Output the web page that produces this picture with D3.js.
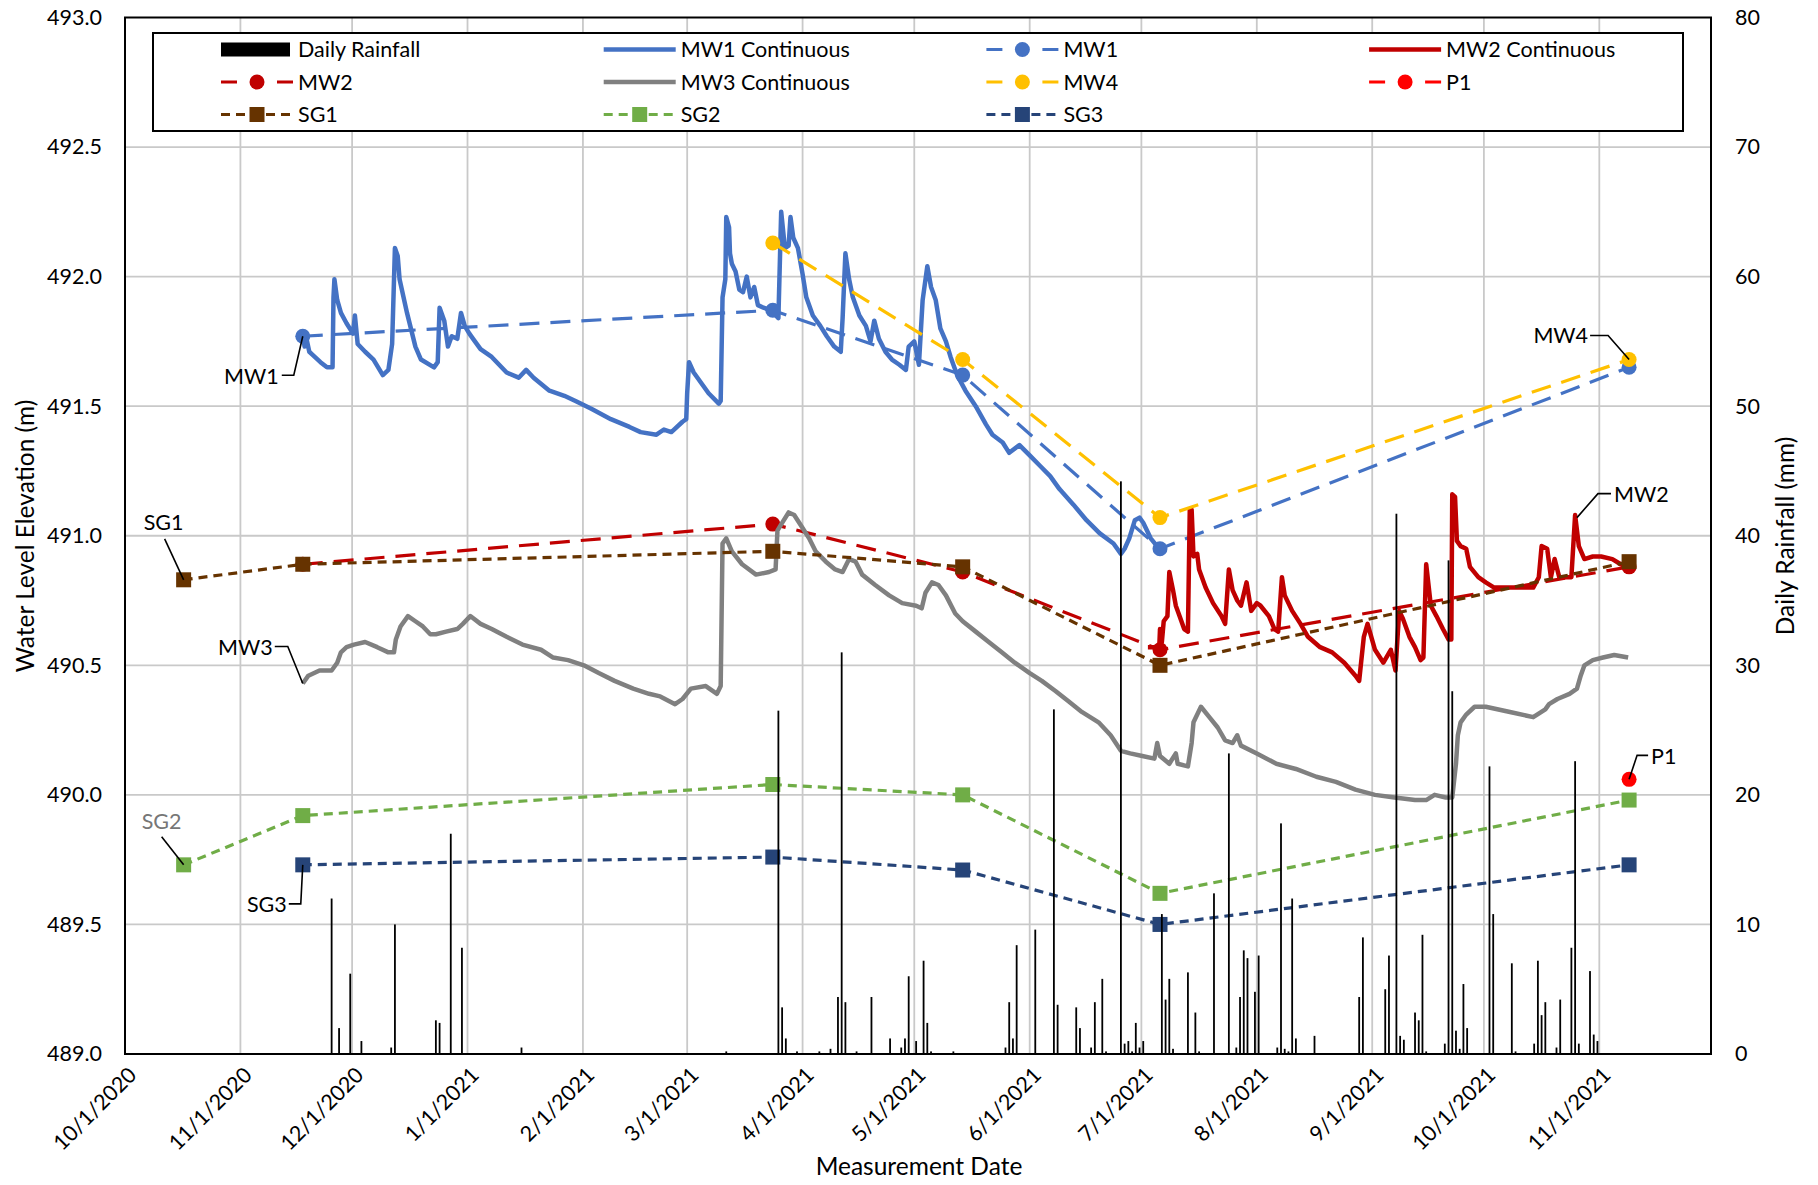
<!DOCTYPE html>
<html>
<head>
<meta charset="utf-8">
<script src="https://cdn.jsdelivr.net/npm/d3@7"></script>
<style>
  body { margin: 0; background: #fff; }
  svg text { font-family: Lato, "Noto Sans", sans-serif; font-size: 21.5px; fill: #000; }
  svg text.title { font-size: 24.5px; }
</style>
</head>
<body>
<svg id="chart" width="1818" height="1185"></svg>
<script>
// ---- data ----
const monthTicks = ['2020-10-01','2020-11-01','2020-12-01','2021-01-01','2021-02-01','2021-03-01','2021-04-01',
  '2021-05-01','2021-06-01','2021-07-01','2021-08-01','2021-09-01','2021-10-01','2021-11-01'];
const elevTicks = [489.0, 489.5, 490.0, 490.5, 491.0, 491.5, 492.0, 492.5, 493.0];
const rainTicks = [0, 10, 20, 30, 40, 50, 60, 70, 80];

// manual measurement dates and values (null = not measured)
const measDates = ['2020-10-16 18','2020-11-17 18','2021-03-24 00','2021-05-14 00','2021-07-06 00','2021-11-09 00'];
const mw1 = [null, 491.77, 491.87, 491.62, 490.95, 491.65];
const mw2 = [null, 490.89, 491.045, 490.86, 490.56, 490.88];
const mw4 = [null, null, 492.13, 491.68, 491.07, 491.68];
const p1  = [null, null, null, null, null, 490.06];
const sg1 = [490.83, 490.89, 490.94, 490.88, 490.50, 490.90];
const sg2 = [489.73, 489.92, 490.04, 490.00, 489.62, 489.98];
const sg3 = [null, 489.73, 489.76, 489.71, 489.50, 489.73];

// logger records [date hour, elevation]
const mw1Cont = [
  ['2020-11-17 18',491.77],['2020-11-18 06',491.73],['2020-11-18 18',491.76],['2020-11-19 12',491.71],
  ['2020-11-20 06',491.70],['2020-11-22 12',491.67],['2020-11-24 06',491.65],['2020-11-25 18',491.65],
  ['2020-11-26 00',491.92],['2020-11-26 06',491.99],['2020-11-27 00',491.91],['2020-11-28 00',491.86],
  ['2020-11-29 12',491.82],['2020-12-01 06',491.78],['2020-12-01 18',491.85],['2020-12-02 12',491.74],
  ['2020-12-04 12',491.71],['2020-12-06 18',491.68],['2020-12-09 06',491.62],['2020-12-10 18',491.64],
  ['2020-12-11 18',491.74],['2020-12-12 12',492.11],['2020-12-13 06',492.08],['2020-12-13 18',491.99],
  ['2020-12-15 18',491.86],['2020-12-18 00',491.73],['2020-12-19 12',491.68],['2020-12-23 00',491.65],
  ['2020-12-24 00',491.67],['2020-12-24 12',491.88],['2020-12-25 18',491.83],['2020-12-26 18',491.73],
  ['2020-12-27 18',491.77],['2020-12-29 06',491.76],['2020-12-30 06',491.86],['2020-12-31 06',491.81],
  ['2021-01-01 12',491.78],['2021-01-02 12',491.76],['2021-01-04 12',491.72],['2021-01-07 12',491.69],
  ['2021-01-11 12',491.63],['2021-01-14 18',491.61],['2021-01-16 18',491.64],['2021-01-18 18',491.61],
  ['2021-01-23 00',491.56],['2021-01-27 00',491.54],['2021-01-30 00',491.52],['2021-02-03 06',491.49],
  ['2021-02-08 12',491.45],['2021-02-13 12',491.42],['2021-02-16 12',491.40],['2021-02-20 18',491.39],
  ['2021-02-22 18',491.41],['2021-02-24 18',491.40],['2021-02-27 18',491.44],['2021-02-28 18',491.45],
  ['2021-03-01 00',491.55],['2021-03-01 12',491.67],['2021-03-02 18',491.63],['2021-03-06 18',491.55],
  ['2021-03-09 12',491.51],['2021-03-10 00',491.52],['2021-03-10 12',491.92],['2021-03-11 06',491.99],
  ['2021-03-11 12',492.23],['2021-03-12 06',492.19],['2021-03-12 12',492.09],['2021-03-13 00',492.05],
  ['2021-03-14 00',492.02],['2021-03-15 00',491.95],['2021-03-16 00',491.94],['2021-03-17 00',492.00],
  ['2021-03-18 00',491.92],['2021-03-19 00',491.96],['2021-03-20 00',491.89],['2021-03-21 12',491.88],
  ['2021-03-23 12',491.87],['2021-03-25 12',491.84],['2021-03-26 06',492.25],['2021-03-27 06',492.11],
  ['2021-03-28 06',492.12],['2021-03-28 18',492.23],['2021-03-29 12',492.15],['2021-03-30 18',492.11],
  ['2021-04-01 00',492.01],['2021-04-02 00',491.92],['2021-04-03 18',491.85],['2021-04-05 18',491.81],
  ['2021-04-07 12',491.77],['2021-04-09 12',491.73],['2021-04-11 06',491.71],['2021-04-11 18',491.84],
  ['2021-04-12 12',492.09],['2021-04-13 12',491.99],['2021-04-14 12',491.92],['2021-04-16 06',491.85],
  ['2021-04-18 00',491.81],['2021-04-19 06',491.75],['2021-04-20 06',491.83],['2021-04-21 12',491.76],
  ['2021-04-23 06',491.71],['2021-04-25 00',491.68],['2021-04-27 00',491.66],['2021-04-28 18',491.64],
  ['2021-04-29 12',491.73],['2021-05-01 00',491.75],['2021-05-02 06',491.66],['2021-05-03 06',491.91],
  ['2021-05-04 12',492.04],['2021-05-05 12',491.96],['2021-05-06 18',491.91],['2021-05-08 00',491.80],
  ['2021-05-09 12',491.75],['2021-05-10 18',491.69],['2021-05-12 12',491.62],['2021-05-14 18',491.56],
  ['2021-05-17 12',491.50],['2021-05-20 06',491.43],['2021-05-22 00',491.39],['2021-05-24 18',491.36],
  ['2021-05-26 12',491.32],['2021-05-29 06',491.35],['2021-06-01 00',491.31],['2021-06-03 18',491.27],
  ['2021-06-06 12',491.23],['2021-06-09 00',491.18],['2021-06-12 18',491.12],['2021-06-16 06',491.06],
  ['2021-06-19 18',491.01],['2021-06-23 12',490.97],['2021-06-25 12',490.93],['2021-06-26 12',490.95],
  ['2021-06-27 18',490.99],['2021-06-29 06',491.06],['2021-06-30 12',491.07],['2021-07-01 12',491.05],
  ['2021-07-03 12',490.99],['2021-07-05 18',490.95]
];

const mw2Cont = [
  ['2021-07-02 18',490.57],['2021-07-04 12',490.57],['2021-07-05 18',490.55],['2021-07-06 00',490.64],
  ['2021-07-06 12',490.59],['2021-07-07 00',490.67],['2021-07-08 00',490.69],['2021-07-08 12',490.86],
  ['2021-07-09 12',490.79],['2021-07-10 06',490.73],['2021-07-11 06',490.69],['2021-07-12 12',490.64],
  ['2021-07-13 12',490.63],['2021-07-14 00',491.10],['2021-07-14 12',491.10],['2021-07-15 00',490.92],
  ['2021-07-16 00',490.93],['2021-07-16 12',490.87],['2021-07-18 06',490.80],['2021-07-20 06',490.74],
  ['2021-07-22 12',490.69],['2021-07-23 12',490.66],['2021-07-24 12',490.87],['2021-07-25 12',490.79],
  ['2021-07-26 18',490.75],['2021-07-27 18',490.73],['2021-07-29 06',490.82],['2021-07-30 12',490.71],
  ['2021-08-01 00',490.74],['2021-08-02 00',490.73],['2021-08-04 06',490.69],['2021-08-05 18',490.64],
  ['2021-08-06 18',490.63],['2021-08-07 18',490.84],['2021-08-08 12',490.77],['2021-08-10 12',490.71],
  ['2021-08-12 18',490.66],['2021-08-14 18',490.61],['2021-08-18 00',490.57],['2021-08-21 06',490.55],
  ['2021-08-24 12',490.51],['2021-08-27 12',490.46],['2021-08-28 12',490.44],['2021-08-29 18',490.61],
  ['2021-08-30 18',490.66],['2021-09-01 18',490.56],['2021-09-04 00',490.51],['2021-09-06 00',490.56],
  ['2021-09-07 06',490.48],['2021-09-08 06',490.71],['2021-09-09 06',490.68],['2021-09-11 00',490.61],
  ['2021-09-12 12',490.57],['2021-09-14 00',490.52],['2021-09-14 18',490.53],['2021-09-15 12',490.89],
  ['2021-09-16 18',490.73],['2021-09-18 06',490.69],['2021-09-20 00',490.64],['2021-09-21 12',490.60],
  ['2021-09-22 06',490.60],['2021-09-22 12',491.16],['2021-09-23 06',491.15],['2021-09-23 18',490.98],
  ['2021-09-24 18',490.96],['2021-09-26 06',490.95],['2021-09-27 06',490.88],['2021-09-29 12',490.84],
  ['2021-10-01 12',490.82],['2021-10-03 18',490.80],['2021-10-09 00',490.80],['2021-10-12 06',490.80],
  ['2021-10-14 06',490.80],['2021-10-15 18',490.84],['2021-10-16 12',490.96],['2021-10-18 00',490.95],
  ['2021-10-19 00',490.84],['2021-10-20 00',490.91],['2021-10-21 06',490.84],['2021-10-22 18',490.84],
  ['2021-10-24 12',490.84],['2021-10-25 12',491.08],['2021-10-26 12',490.96],['2021-10-28 00',490.91],
  ['2021-10-30 06',490.92],['2021-11-01 12',490.92],['2021-11-04 12',490.91],['2021-11-06 18',490.89],
  ['2021-11-09 00',490.88]
];

const mw3Cont = [
  ['2020-11-17 18',490.43],['2020-11-19 06',490.46],['2020-11-22 06',490.48],['2020-11-25 12',490.48],
  ['2020-11-27 00',490.51],['2020-11-28 00',490.55],['2020-11-29 12',490.57],['2020-12-01 12',490.58],
  ['2020-12-04 12',490.59],['2020-12-07 18',490.57],['2020-12-10 18',490.55],['2020-12-12 06',490.55],
  ['2020-12-12 18',490.60],['2020-12-14 00',490.65],['2020-12-16 00',490.69],['2020-12-18 00',490.67],
  ['2020-12-20 00',490.65],['2020-12-22 00',490.62],['2020-12-23 12',490.62],['2020-12-26 06',490.63],
  ['2020-12-29 06',490.64],['2020-12-30 18',490.66],['2021-01-01 18',490.69],['2021-01-04 12',490.66],
  ['2021-01-07 12',490.64],['2021-01-11 12',490.61],['2021-01-15 18',490.58],['2021-01-20 18',490.56],
  ['2021-01-24 00',490.53],['2021-01-28 00',490.52],['2021-02-01 06',490.50],['2021-02-05 06',490.47],
  ['2021-02-09 12',490.44],['2021-02-14 12',490.41],['2021-02-18 18',490.39],['2021-02-21 18',490.38],
  ['2021-02-25 18',490.35],['2021-02-27 18',490.37],['2021-03-02 00',490.41],['2021-03-06 00',490.42],
  ['2021-03-09 00',490.39],['2021-03-10 00',490.42],['2021-03-10 12',490.97],['2021-03-11 12',490.99],
  ['2021-03-13 00',490.94],['2021-03-15 18',490.89],['2021-03-19 12',490.85],['2021-03-23 00',490.86],
  ['2021-03-24 18',490.87],['2021-03-25 06',491.02],['2021-03-26 12',491.05],['2021-03-28 06',491.09],
  ['2021-03-29 18',491.08],['2021-04-01 00',491.03],['2021-04-02 18',490.99],['2021-04-04 12',490.94],
  ['2021-04-07 06',490.90],['2021-04-09 18',490.87],['2021-04-11 18',490.86],['2021-04-13 12',490.91],
  ['2021-04-15 06',490.90],['2021-04-17 00',490.85],['2021-04-20 12',490.81],['2021-04-24 06',490.77],
  ['2021-04-27 18',490.74],['2021-05-01 12',490.73],['2021-05-03 00',490.72],['2021-05-04 00',490.78],
  ['2021-05-05 18',490.82],['2021-05-07 12',490.81],['2021-05-09 12',490.77],['2021-05-12 00',490.70],
  ['2021-05-14 00',490.67],['2021-05-17 12',490.63],['2021-05-21 00',490.59],['2021-05-24 12',490.55],
  ['2021-05-28 00',490.51],['2021-06-01 00',490.47],['2021-06-04 06',490.44],['2021-06-08 00',490.40],
  ['2021-06-11 12',490.36],['2021-06-15 00',490.32],['2021-06-19 12',490.28],['2021-06-22 18',490.23],
  ['2021-06-25 12',490.17],['2021-06-28 00',490.16],['2021-07-01 06',490.15],['2021-07-04 12',490.14],
  ['2021-07-05 06',490.20],['2021-07-06 00',490.15],['2021-07-08 12',490.12],['2021-07-10 06',490.16],
  ['2021-07-10 18',490.12],['2021-07-13 12',490.11],['2021-07-14 12',490.20],['2021-07-15 00',490.28],
  ['2021-07-17 00',490.34],['2021-07-19 06',490.30],['2021-07-21 12',490.26],['2021-07-23 12',490.21],
  ['2021-07-25 12',490.20],['2021-07-26 18',490.23],['2021-07-27 18',490.19],['2021-08-01 00',490.16],
  ['2021-08-06 06',490.12],['2021-08-11 12',490.10],['2021-08-17 00',490.07],['2021-08-22 06',490.05],
  ['2021-08-27 12',490.02],['2021-09-01 18',490.00],['2021-09-07 00',489.99],['2021-09-12 12',489.98],
  ['2021-09-15 12',489.98],['2021-09-17 18',490.00],['2021-09-20 18',489.99],['2021-09-22 12',489.99],
  ['2021-09-23 12',490.12],['2021-09-24 00',490.23],['2021-09-24 18',490.28],['2021-09-26 06',490.31],
  ['2021-09-28 12',490.34],['2021-10-01 12',490.34],['2021-10-08 00',490.32],['2021-10-14 06',490.30],
  ['2021-10-17 12',490.33],['2021-10-18 12',490.35],['2021-10-20 18',490.37],['2021-10-24 00',490.39],
  ['2021-10-26 00',490.41],['2021-10-27 00',490.46],['2021-10-28 00',490.50],['2021-10-30 06',490.52],
  ['2021-11-02 00',490.53],['2021-11-05 00',490.54],['2021-11-08 18',490.53]
];

// daily rainfall (mm)
const rainDates = [
  '2020-11-25','2020-11-27','2020-11-30','2020-12-03','2020-12-11','2020-12-12','2020-12-23','2020-12-24',
  '2020-12-27','2020-12-30','2021-01-15','2021-03-11','2021-03-25','2021-03-26','2021-03-27','2021-03-30',
  '2021-04-05','2021-04-08','2021-04-10','2021-04-11','2021-04-12','2021-04-15','2021-04-19','2021-04-24',
  '2021-04-27','2021-04-28','2021-04-29','2021-05-01','2021-05-03','2021-05-04','2021-05-05','2021-05-11',
  '2021-05-25','2021-05-26','2021-05-27','2021-05-28','2021-06-02','2021-06-07','2021-06-08','2021-06-13',
  '2021-06-14','2021-06-17','2021-06-18','2021-06-20','2021-06-21','2021-06-25','2021-06-26','2021-06-27',
  '2021-06-28','2021-06-29','2021-06-30','2021-07-01','2021-07-06','2021-07-07','2021-07-08','2021-07-09',
  '2021-07-13','2021-07-15','2021-07-16','2021-07-20','2021-07-24','2021-07-26','2021-07-27','2021-07-28',
  '2021-07-29','2021-07-31','2021-08-01','2021-08-06','2021-08-07','2021-08-08','2021-08-09','2021-08-10',
  '2021-08-11','2021-08-16','2021-08-28','2021-08-29','2021-09-04','2021-09-05','2021-09-07','2021-09-08',
  '2021-09-09','2021-09-12','2021-09-13','2021-09-14','2021-09-15','2021-09-20','2021-09-21','2021-09-22',
  '2021-09-23','2021-09-24','2021-09-25','2021-09-26','2021-10-02','2021-10-03','2021-10-08','2021-10-09',
  '2021-10-14','2021-10-15','2021-10-16','2021-10-17','2021-10-20','2021-10-21','2021-10-24','2021-10-25',
  '2021-10-26','2021-10-29','2021-10-30','2021-10-31'
];
const rainMm = [
  12.0, 2.0, 6.2, 1.0, 0.5, 10.0, 2.6, 2.4,
  17.0, 8.2, 0.5, 0.2, 26.5, 3.6, 1.2, 0.2,
  0.2, 0.4, 4.4, 31.0, 4.0, 0.2, 4.4, 1.2,
  0.5, 1.2, 6.0, 1.0, 7.2, 2.4, 0.2, 0.2,
  0.5, 4.0, 1.2, 8.4, 9.6, 26.6, 3.8, 3.6,
  2.0, 0.5, 4.0, 5.8, 0.2, 44.2, 0.8, 1.0,
  0.2, 2.4, 0.5, 1.0, 10.8, 4.2, 5.8, 0.4,
  6.3, 3.2, 0.2, 12.4, 23.2, 0.5, 4.4, 8.0,
  7.4, 4.8, 7.6, 0.5, 17.8, 0.4, 0.2, 12.0,
  1.2, 1.4, 4.4, 9.0, 5.0, 7.6, 41.7, 1.4,
  1.1, 3.2, 2.6, 9.2, 0.2, 0.8, 38.1, 28.0,
  1.8, 0.4, 5.4, 2.0, 22.2, 10.8, 7.0, 0.2,
  0.8, 7.2, 3.0, 4.0, 0.5, 4.2, 8.2, 22.6,
  0.8, 6.4, 1.5, 1.0
];

// ---- chart ----
const margin = { left: 125, right: 1711, top: 17.5, bottom: 1054 };
const parseDay = d3.timeParse('%Y-%m-%d');
const parseHour = d3.timeParse('%Y-%m-%d %H');
const parse = s => s.length > 10 ? parseHour(s) : parseDay(s);

const x = d3.scaleTime()
    .domain([parseDay('2020-10-01'), parseDay('2021-12-01')])
    .range([margin.left, margin.right]);
const y = d3.scaleLinear().domain([489, 493]).range([margin.bottom, margin.top]);
const yRain = d3.scaleLinear().domain([0, 80]).range([margin.bottom, margin.top]);

const svg = d3.select('#chart');

// gridlines
const grid = svg.append('g').attr('stroke', '#c9c9c9').attr('stroke-width', 1.8);
grid.selectAll('line.v')
  .data(monthTicks.slice(1))
  .join('line')
    .attr('x1', d => x(parseDay(d))).attr('x2', d => x(parseDay(d)))
    .attr('y1', margin.top).attr('y2', margin.bottom);
grid.selectAll('line.h')
  .data(elevTicks.slice(1, -1))
  .join('line')
    .attr('x1', margin.left).attr('x2', margin.right)
    .attr('y1', d => y(d)).attr('y2', d => y(d));

// series styles, drawn in legend order
const MWDASH = '20,11', SGDASH = '9,6';
const series = [
  { name: 'MW1 Continuous', cont: mw1Cont, color: '#4472C4' },
  { name: 'MW1', vals: mw1, color: '#4472C4', dash: MWDASH, marker: 'circle' },
  { name: 'MW2 Continuous', cont: mw2Cont, color: '#C00000' },
  { name: 'MW2', vals: mw2, color: '#C00000', dash: MWDASH, marker: 'circle' },
  { name: 'MW3 Continuous', cont: mw3Cont, color: '#808080' },
  { name: 'MW4', vals: mw4, color: '#FFC000', dash: MWDASH, marker: 'circle' },
  { name: 'P1', vals: p1, color: '#FF0000', dash: MWDASH, marker: 'circle' },
  { name: 'SG1', vals: sg1, color: '#663300', dash: SGDASH, marker: 'square' },
  { name: 'SG2', vals: sg2, color: '#70AD47', dash: SGDASH, marker: 'square' },
  { name: 'SG3', vals: sg3, color: '#264478', dash: SGDASH, marker: 'square' }
];

const line = d3.line().x(d => x(d[0])).y(d => y(d[1]));

const drawMarker = (g, kind, color, cx, cy) => {
  if (kind === 'circle') {
    g.append('circle').attr('cx', cx).attr('cy', cy).attr('r', 7.5).attr('fill', color);
  } else {
    g.append('rect').attr('x', cx - 7.5).attr('y', cy - 7.5)
      .attr('width', 15).attr('height', 15).attr('fill', color);
  }
};

const plot = svg.append('g');
series.forEach(s => {
  if (s.cont) {
    plot.append('path')
      .datum(s.cont.map(d => [parse(d[0]), d[1]]))
      .attr('d', line)
      .attr('fill', 'none')
      .attr('stroke', s.color)
      .attr('stroke-width', 4.5)
      .attr('stroke-linejoin', 'round');
  } else {
    const pts = measDates.map((d, i) => [parse(d), s.vals[i]]).filter(d => d[1] != null);
    plot.append('path')
      .datum(pts)
      .attr('d', line)
      .attr('fill', 'none')
      .attr('stroke', s.color)
      .attr('stroke-width', 3.2)
      .attr('stroke-dasharray', s.dash);
    pts.forEach(p => drawMarker(plot, s.marker, s.color, x(p[0]), y(p[1])));
  }
});

// rainfall columns (secondary axis, on top)
const half = 12 * 3600 * 1000;
svg.append('g')
  .selectAll('rect')
  .data(rainDates.map((d, i) => ({ date: parseDay(d), mm: rainMm[i] })))
  .join('rect')
    .attr('x', d => x(new Date(+d.date + half)) - 0.9)
    .attr('width', 1.8)
    .attr('y', d => yRain(d.mm))
    .attr('height', d => margin.bottom - yRain(d.mm))
    .attr('fill', '#000');

// plot border
svg.append('rect')
  .attr('x', margin.left).attr('y', margin.top)
  .attr('width', margin.right - margin.left).attr('height', margin.bottom - margin.top)
  .attr('fill', 'none').attr('stroke', '#000').attr('stroke-width', 2);

// axes
const fmtDate = d3.timeFormat('%-m/%-d/%Y');
const xAxis = svg.append('g')
  .attr('transform', `translate(0,${margin.bottom})`)
  .call(d3.axisBottom(x).tickValues(monthTicks.map(parseDay)).tickFormat(fmtDate).tickSize(0));
xAxis.select('.domain').remove();
xAxis.selectAll('text')
  .attr('x', 0).attr('y', 0).attr('dy', '0.35em')
  .attr('transform', 'translate(7,17) rotate(-45)')
  .style('text-anchor', 'end')
  .style('font-size', '21.5px');

const yAxis = svg.append('g')
  .attr('transform', `translate(${margin.left},0)`)
  .call(d3.axisLeft(y).tickValues(elevTicks).tickFormat(d3.format('.1f')).tickSize(0).tickPadding(23));
yAxis.select('.domain').remove();
yAxis.selectAll('text').style('font-size', '21.5px');

const yAxisR = svg.append('g')
  .attr('transform', `translate(${margin.right},0)`)
  .call(d3.axisRight(yRain).tickValues(rainTicks).tickSize(0).tickPadding(24));
yAxisR.select('.domain').remove();
yAxisR.selectAll('text').style('font-size', '21.5px');

// axis titles
svg.append('text').attr('class', 'title')
  .attr('transform', 'translate(25,536) rotate(-90)')
  .attr('text-anchor', 'middle').attr('dy', '0.35em')
  .text('Water Level Elevation (m)');
svg.append('text').attr('class', 'title')
  .attr('transform', 'translate(1785,536) rotate(-90)')
  .attr('text-anchor', 'middle').attr('dy', '0.35em')
  .text('Daily Rainfall (mm)');
svg.append('text').attr('class', 'title')
  .attr('x', 919).attr('y', 1166)
  .attr('text-anchor', 'middle').attr('dy', '0.35em')
  .text('Measurement Date');

// legend
const legendItems = [{ name: 'Daily Rainfall', bar: true }].concat(series);
const lg = svg.append('g');
lg.append('rect')
  .attr('x', 153).attr('y', 33).attr('width', 1530).attr('height', 98)
  .attr('fill', '#fff').attr('stroke', '#000').attr('stroke-width', 2);
legendItems.forEach((it, i) => {
  const col = i % 4, row = Math.floor(i / 4);
  const gx = 221 + col * 382.7, gy = 49.5 + row * 32.5;
  const g = lg.append('g').attr('transform', `translate(${gx},${gy})`);
  if (it.bar) {
    g.append('rect').attr('x', 0).attr('y', -7).attr('width', 69).attr('height', 14).attr('fill', '#000');
  } else if (it.cont) {
    g.append('line').attr('x1', 0).attr('x2', 72).attr('stroke', it.color).attr('stroke-width', 4.5);
  } else {
    const dash = it.marker === 'circle' ? '16,40,16' : SGDASH;
    g.append('line').attr('x1', 0).attr('x2', 72)
      .attr('stroke', it.color).attr('stroke-width', 3.2).attr('stroke-dasharray', dash);
    drawMarker(g, it.marker, it.color, 36, 0);
  }
  g.append('text').attr('x', 77).attr('dy', '0.35em').text(it.name);
});

// callout labels: anchored on a data point, leader offsets in px
const callouts = [
  { text: 'MW1', date: '2020-11-17 18', value: 491.77, path: [[0,0],[-9,39],[-21,39]], tx: -24, ty: 40, anchor: 'end' },
  { text: 'SG1', date: '2020-10-16 18', value: 490.83, path: [[0,0],[-19,-41]], tx: -20, ty: -57, anchor: 'middle' },
  { text: 'MW3', date: '2020-11-17 18', value: 490.43, path: [[0,0],[-15,-37],[-28,-37]], tx: -30, ty: -36, anchor: 'end' },
  { text: 'SG2', date: '2020-10-16 18', value: 489.73, path: [[0,0],[-22,-28]], tx: -22, ty: -43, anchor: 'middle', color: '#767676' },
  { text: 'SG3', date: '2020-11-17 18', value: 489.73, path: [[0,0],[-2,39],[-14,39]], tx: -16, ty: 40, anchor: 'end' },
  { text: 'MW2', date: '2021-10-26 00', value: 491.07, path: [[0,0],[21,-24],[34,-24]], tx: 37, ty: -23, anchor: 'start' },
  { text: 'P1', date: '2021-11-09 00', value: 490.06, path: [[0,0],[8,-24],[19,-24]], tx: 22, ty: -23, anchor: 'start' },
  { text: 'MW4', date: '2021-11-09 00', value: 491.68, path: [[0,0],[-21,-24],[-39,-24]], tx: -41, ty: -24, anchor: 'end' }
];
const cg = svg.append('g');
callouts.forEach(c => {
  const ax = x(parse(c.date)), ay = y(c.value);
  cg.append('path')
    .attr('d', d3.line()(c.path.map(p => [ax + p[0], ay + p[1]])))
    .attr('fill', 'none').attr('stroke', '#000').attr('stroke-width', 1.6);
  cg.append('text')
    .attr('x', ax + c.tx).attr('y', ay + c.ty).attr('dy', '0.35em')
    .attr('text-anchor', c.anchor)
    .style('fill', c.color || '#000')
    .text(c.text);
});
</script>
</body>
</html>
